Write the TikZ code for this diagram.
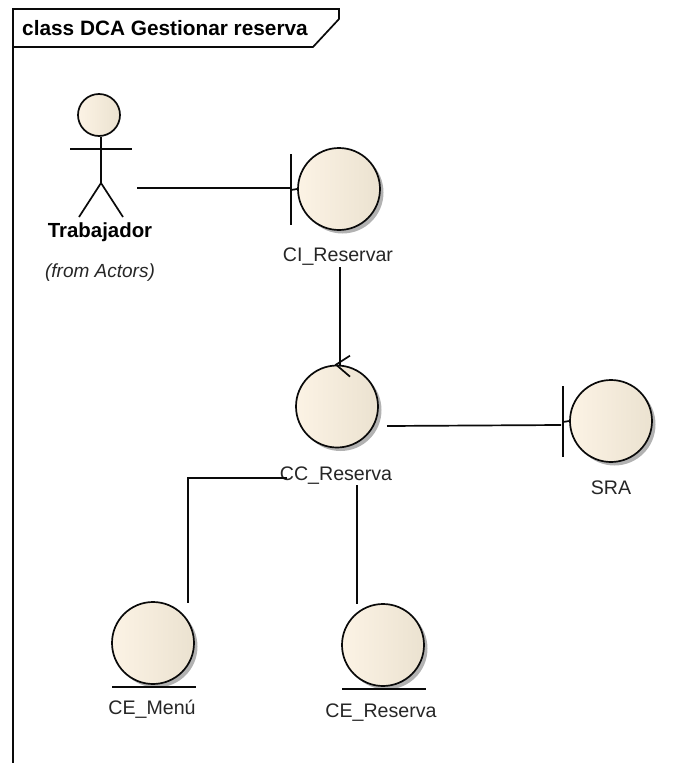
\documentclass[tikz,border=0pt]{standalone}
\usepackage{fontspec}
\setmainfont{Liberation Sans}
\usetikzlibrary{shadows,calc}
\definecolor{ballL}{HTML}{FCF3E5}
\definecolor{ballR}{HTML}{EBE2D0}
\definecolor{ink}{HTML}{0A0A0A}
\tikzset{
  ball/.style={circle,draw=ink,line width=1.7pt,minimum size=82pt,inner sep=0pt,
    left color=ballL,middle color=ballL,right color=ballR,
    drop shadow={shadow xshift=3.5pt,shadow yshift=-3.5pt,fill=black,opacity=0.3}},
  head/.style={circle,draw=ink,line width=1.7pt,minimum size=42pt,inner sep=0pt,
    left color=ballL,middle color=ballL,right color=ballR},
  stroke/.style={draw=ink,line width=1.7pt},
  link/.style={draw=ink,line width=1.7pt},
  lbl/.style={inner sep=0pt,text=black!85,font=\fontsize{19.6}{22}\selectfont},
  lblb/.style={inner sep=0pt,text=black,font=\fontsize{20.4}{22}\selectfont\bfseries},
  lbli/.style={inner sep=0pt,text=black!85,font=\fontsize{19}{22}\selectfont\itshape},
}
\begin{document}
\begin{tikzpicture}[x=1pt,y=-1pt]
\useasboundingbox[fill=white] (0,0) rectangle (693,763);
% frame
\draw[stroke] (13,763) -- (13,9) -- (339,9) -- (339,19) -- (313,47) -- (13,47);
\node[lblb,anchor=west,font=\fontsize{20.8}{22}\selectfont\bfseries] (title) at (22,28) {class DCA Gestionar reserva};
% actor
\node[head] (actor) at (99,115) {};
\draw[stroke] ($(actor)+(-29,34)$) -- ($(actor)+(33,34)$);
\draw[stroke] ($(actor)+(2,22)$) -- ($(actor)+(2,68)$);
\draw[stroke] ($(actor)+(-20,102)$) -- ($(actor)+(2,68)$) -- ($(actor)+(24,102)$);
\node[lblb] (trab) at (100,232) {Trabajador};
\node[lbli] (from) at (100,273) {(from Actors)};
% boundary CI
\node[ball] (ci) at (339,189) {};
\draw[stroke] ($(ci)+(-48,-35)$) -- ($(ci)+(-48,36)$);
\draw[stroke] ($(ci)+(-48,1)$) -- (ci.west);
\node[lbl] (cil) at (338,256.5) {CI\_Reservar};
% control CC
\node[ball] (cc) at (337,406.5) {};
\draw[stroke] ($(cc.north)+(13,-9)$) -- ($(cc.north)+(-1,0)$) -- ($(cc.north)+(13,12)$);
\node[lbl] (ccl) at (336,475.5) {CC\_Reserva};
% boundary SRA
\node[ball] (sra) at (611,421) {};
\draw[stroke] ($(sra)+(-48,-35)$) -- ($(sra)+(-48,36)$);
\draw[stroke] ($(sra)+(-48,1)$) -- (sra.west);
\node[lbl] (sral) at (611,488) {SRA};
% entities
\node[ball] (men) at (153,643) {};
\draw[stroke] ($(men)+(-41,44)$) -- ($(men)+(43,44)$);
\node[lbl] (menl) at (152,709.5) {CE\_Menú};
\node[ball] (res) at (383,645) {};
\draw[stroke] ($(res)+(-41,44)$) -- ($(res)+(43,44)$);
\node[lbl] (resl) at (381,713) {CE\_Reserva};
% connectors
\draw[link] ($(actor)+(38,73)$) -- ($(ci)+(-48,-1)$);
\draw[link] ($(cil)+(2,10.5)$) -- ($(cc.north)+(3,0)$);
\draw[link] ($(cc)+(50,19.5)$) -- ($(sra)+(-50,4)$);
\draw[link] ($(ccl)+(-49,2.5)$) -- ($(men)+(35,-165)$) -- ($(men)+(35,-40)$);
\draw[link] ($(ccl)+(21,9.5)$) -- ($(res)+(-26,-41)$);
\end{tikzpicture}
\end{document}
